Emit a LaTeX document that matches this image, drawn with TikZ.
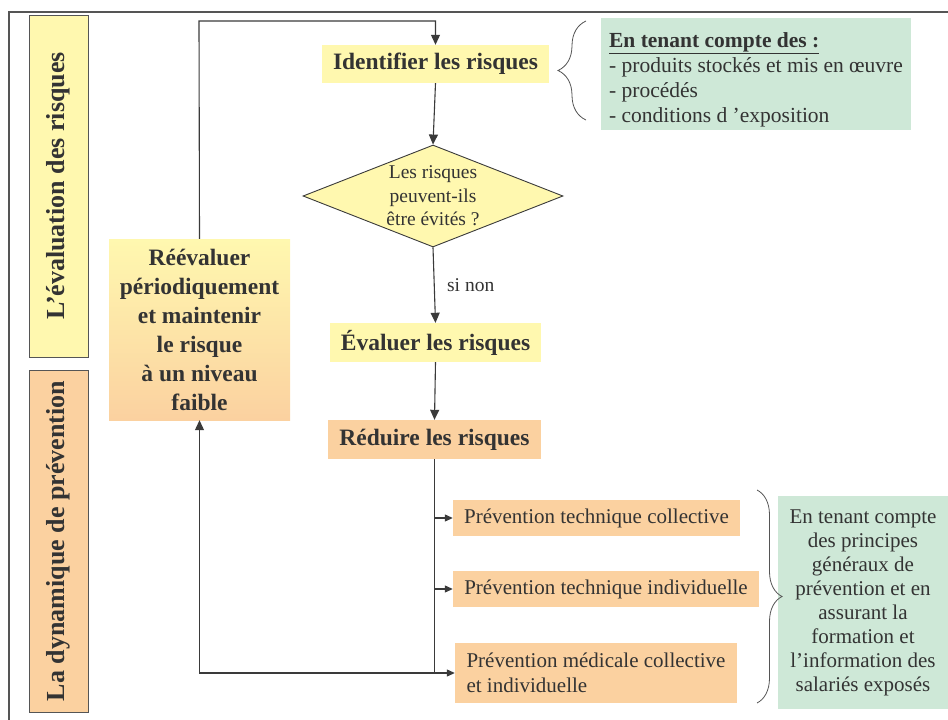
\documentclass[tikz,border=0pt]{standalone}
\usepackage{fontspec}
\setmainfont{Liberation Serif}
\usetikzlibrary{arrows.meta,decorations.pathreplacing,shapes.geometric}
\definecolor{yel}{HTML}{FFF8AF}
\definecolor{ora}{HTML}{FBD1A0}
\definecolor{grn}{HTML}{CEE8D7}
\definecolor{txt}{HTML}{333333}
\definecolor{ln}{HTML}{3A3A3A}
\definecolor{frm}{HTML}{555555}
\begin{document}
\begin{tikzpicture}[x=1pt,y=-1pt,
  box/.style={rectangle,inner sep=0pt,text=txt,align=center},
  sidebox/.style={box,draw=frm,line width=0.9pt,rotate=90,minimum width=342pt,minimum height=59pt,
    font=\fontsize{26}{30}\selectfont\bfseries},
  titlebox/.style={box,font=\fontsize{23.5}{28}\selectfont\bfseries,minimum height=38pt},
  prevbox/.style={box,fill=ora,font=\fontsize{21}{25}\selectfont},
  arr/.style={draw=ln,line width=1.1pt,-{Triangle[length=10pt,width=9pt]}},
  sarr/.style={draw=ln,line width=1.1pt,-{Triangle[length=8pt,width=7pt]}},
  plain/.style={draw=ln,line width=1.1pt},
  bracedeco/.style={draw=frm,line width=0.8pt,decorate},
  frameline/.style={draw=frm,line width=1.6pt}
]
\useasboundingbox (0,0) rectangle (948,720);
% outer frame
\draw[frameline] (9,720) -- (9,12) -- (948,12);

% side labels
\node[sidebox,fill=yel] (side1) at (58.5,186) {L’évaluation des risques};
\node[sidebox,fill=ora] (side2) at (58.5,541) {La dynamique de prévention};

% reevaluate box
\node[box,top color=yel,bottom color=ora,minimum width=181pt,minimum height=181pt,
  font=\fontsize{23.5}{29}\selectfont\bfseries] (reeval) at (199.5,329.5)
  {Réévaluer\\périodiquement\\et maintenir\\le risque\\à un niveau\\faible};

% main flow
\node[titlebox,fill=yel,minimum width=227pt] (ident) at (435.5,64) {Identifier les risques};
\node[diamond,aspect=2.55,draw=ln,line width=0.9pt,fill=yel,text=txt,align=center,inner sep=0pt,
  minimum width=260pt,minimum height=102pt,font=\fontsize{19.5}{23.5}\selectfont] (diam) at (433,196)
  {Les risques\\peuvent-ils\\être évités ?};
\node[titlebox,fill=yel,minimum width=211pt,minimum height=39pt] (eval) at (435.5,342.5) {Évaluer les risques};
\node[titlebox,fill=ora,minimum width=213pt,minimum height=39pt] (reduce) at (434.5,439.5) {Réduire les risques};

% prevention boxes
\node[prevbox,minimum width=287pt,minimum height=36pt] (p1) at (596.5,518) {Prévention technique collective};
\node[prevbox,minimum width=306pt,minimum height=36pt] (p2) at (606,589) {Prévention technique individuelle};
\node[prevbox,align=left,minimum width=282pt,minimum height=60pt] (p3) at (596,673)
  {Prévention médicale collective\\et individuelle};

% green notes
\node[box,fill=grn,align=left,minimum width=310pt,minimum height=112pt,
  font=\fontsize{21.5}{25}\selectfont] (noteT) at (756,74)
  {\rule{0pt}{27pt}\underline{\textbf{En tenant compte des :}}\\- produits stockés et mis en œuvre\\- procédés\\- conditions d ’exposition};
\node[box,fill=grn,align=center,minimum width=170pt,minimum height=213pt,
  font=\fontsize{21}{24}\selectfont] (noteR) at (863,602.5)
  {En tenant compte\\des principes\\généraux de\\prévention et en\\assurant la\\formation et\\l’information des\\salariés exposés};

% connectors
\coordinate (topleft) at (199,21);
\draw[arr] (reeval.north) -- (topleft) -| (ident.north);
\draw[arr] (ident.south) -- (diam.north);
\draw[arr] (diam.south) -- node[right,text=txt,font=\fontsize{19.5}{24}\selectfont,xshift=9pt] {si non} (eval.north);
\draw[arr] (eval.south) -- (reduce.north);
\coordinate (trunkend) at (reduce.south |- p3.west);
\draw[plain] (reduce.south) -- (trunkend);
\draw[sarr] (reduce.south |- p1.west) -- (p1.west);
\draw[sarr] (reduce.south |- p2.west) -- (p2.west);
\draw[sarr] (trunkend) -- (p3.west);
\draw[arr] (trunkend) -| (reeval.south);

% braces
\coordinate (bT1) at (586,120);
\coordinate (bT2) at (586,21);
\draw[bracedeco,decoration={brace,amplitude=28pt}] (bT1) -- (bT2);
\coordinate (bR1) at (757,490);
\coordinate (bR2) at (757,703);
\draw[bracedeco,decoration={brace,amplitude=25pt}] (bR1) -- (bR2);
\end{tikzpicture}
\end{document}
